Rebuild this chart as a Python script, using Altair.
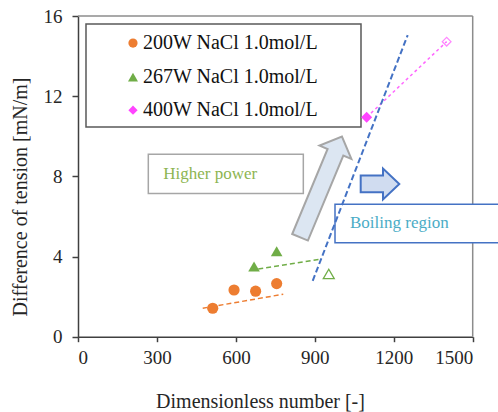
import altair as alt
import pandas as pd

# ---------------- data ----------------
x_200 = [512, 593, 675, 755]
y_200 = [1.42, 2.33, 2.27, 2.65]
x_267 = [669, 755]
y_267 = [3.50, 4.26]
x_267_open = [953]
y_267_open = [3.13]
x_400 = [1097]
y_400 = [10.95]
x_400_open = [1401]
y_400_open = [14.72]

fit_200_x = [474, 780]
fit_200_y = [1.42, 2.12]
fit_267_x = [685, 926]
fit_267_y = [3.38, 3.88]
fit_400_x = [1097, 1401]
fit_400_y = [10.95, 14.72]
boil_x = [892, 1253]
boil_y = [2.79, 15.05]

series_labels = ["200W NaCl 1.0mol/L", "267W NaCl 1.0mol/L", "400W NaCl 1.0mol/L"]
x_ticks = [0, 300, 600, 900, 1200, 1500]
y_ticks = [0, 4, 8, 12, 16]

# ---------------- styling ----------------
FONT = "Liberation Serif"
ORANGE = "#ed7d31"
GREEN = "#70ad47"
MAGENTA = "#ff44ff"
BLUE = "#4472c4"
AX = "#404040"

xs = alt.Scale(domain=[0, 1500], nice=False, zero=False)
ys = alt.Scale(domain=[0, 16], nice=False, zero=False)
x_axis = alt.Axis(values=x_ticks, format="d", grid=False, tickSize=5, tickWidth=1.5, tickColor=AX,
                  domainColor=AX, domainWidth=1.5, labelFont=FONT, labelFontSize=19,
                  labelColor="#262626", labelPadding=7, title="Dimensionless number [-]",
                  titleFont=FONT, titleFontSize=20, titleFontWeight="normal", titleColor="#262626",
                  titleX=182, titleY=70.5, titleBaseline="alphabetic", titleAlign="center")
y_axis = alt.Axis(values=y_ticks, format="d", grid=False, tickSize=6, tickWidth=1.5, tickColor=AX,
                  domainColor=AX, domainWidth=1.5, labelFont=FONT, labelFontSize=19,
                  labelColor="#262626", labelPadding=10, title="Difference of tension [mN/m]",
                  titleFont=FONT, titleFontSize=20, titleFontWeight="normal", titleColor="#262626",
                  titleAngle=270, titleX=-51.5, titleY=180.5, titleBaseline="alphabetic",
                  titleAlign="center")


def X(f="x"):
    return alt.X(f"{f}:Q", scale=xs, axis=x_axis)


def Y(f="y"):
    return alt.Y(f"{f}:Q", scale=ys, axis=y_axis)


def df(x, y):
    return pd.DataFrame({"x": x, "y": y})


# frame (top and right border)
frame = alt.Chart(pd.DataFrame({"x": [0, 1500], "x2": [1500, 1500], "y": [16, 0], "y2": [16, 16]})).mark_rule(
    color="#8c8c8c", strokeWidth=1.5).encode(x=X(), x2="x2:Q", y=Y(), y2="y2:Q")

# annotation boxes (data coordinates)
boxes = pd.DataFrame({
    "x": [30.4, 267.2, 976.7], "x2": [1075.5, 856.3, 1640],
    "y": [15.6, 9.10, 6.605], "y2": [10.46, 7.15, 4.69],
    "stroke": ["#595959", "#a6a6a6", BLUE],
})
box_layers = []
for i in range(len(boxes)):
    box_layers.append(
        alt.Chart(boxes.iloc[[i]]).mark_rect(fill="white", stroke=boxes["stroke"][i], strokeWidth=1.5)
        .encode(x=X(), x2="x2:Q", y=Y(), y2="y2:Q"))

higher = alt.Chart(pd.DataFrame({"x": [324], "y": [8.13], "t": ["Higher power"]})).mark_text(
    align="left", baseline="middle", font=FONT, fontSize=17, color="#8db552").encode(x=X(), y=Y(), text="t:N")
boiling = alt.Chart(pd.DataFrame({"x": [1033.7], "y": [5.65], "t": ["Boiling region"]})).mark_text(
    align="left", baseline="middle", font=FONT, fontSize=17, color="#4bacc6").encode(x=X(), y=Y(), text="t:N")

# arrows as custom symbols
up_arrow = "M-0.156,1 L0.156,1 L0.156,-0.69 L0.316,-0.69 L0,-1 L-0.316,-0.69 L-0.156,-0.69 Z"
right_arrow = "M-1,-0.433 L0.155,-0.433 L0.155,-0.8 L1,0 L0.155,0.8 L0.155,0.433 L-1,0.433 Z"
big_arrow = alt.Chart(df([923.5], [7.47])).mark_point(
    shape=up_arrow, size=11881, angle=22.6, filled=True, fill="#dce6f2", stroke="#a6a6a6",
    strokeWidth=2, opacity=1).encode(x=X(), y=Y())
small_arrow = alt.Chart(df([1147.7], [7.62])).mark_point(
    shape=right_arrow, size=1490, filled=True, fill="#d0dcf0", stroke=BLUE,
    strokeWidth=2, opacity=1).encode(x=X(), y=Y())

# trend lines
l200 = alt.Chart(df(fit_200_x, fit_200_y)).mark_line(color=ORANGE, strokeWidth=1.5, strokeDash=[5, 3]).encode(x=X(), y=Y())
l267 = alt.Chart(df(fit_267_x, fit_267_y)).mark_line(color=GREEN, strokeWidth=1.5, strokeDash=[5, 3]).encode(x=X(), y=Y())
l400 = alt.Chart(df(fit_400_x, fit_400_y)).mark_line(color="#ff66ff", strokeWidth=1.5, strokeDash=[3, 3]).encode(x=X(), y=Y())
lboil = alt.Chart(df(boil_x, boil_y)).mark_line(color=BLUE, strokeWidth=2, strokeDash=[6, 3]).encode(x=X(), y=Y())

# points
p200 = alt.Chart(df(x_200, y_200)).mark_point(shape="circle", filled=True, size=125, color=ORANGE, opacity=1).encode(x=X(), y=Y())
p267 = alt.Chart(df(x_267, y_267)).mark_point(shape="triangle-up", filled=True, size=135, color=GREEN, opacity=1).encode(x=X(), y=Y())
p267o = alt.Chart(df(x_267_open, y_267_open)).mark_point(shape="triangle-up", filled=False, size=120, color=GREEN, strokeWidth=1.3, opacity=1).encode(x=X(), y=Y())
p400 = alt.Chart(df(x_400, y_400)).mark_point(shape="diamond", filled=True, size=121, color=MAGENTA, opacity=1).encode(x=X(), y=Y())
p400o = alt.Chart(df(x_400_open, y_400_open)).mark_point(shape="diamond", filled=False, size=75, color="#ff88ff", strokeWidth=1.3, opacity=1).encode(x=X(), y=Y())

# legend (manual, inside the box)
leg_y = [14.65, 12.95, 11.30]
leg_sym = pd.DataFrame({"x": [209] * 3, "y": leg_y, "s": series_labels})
leg_circle = alt.Chart(leg_sym.iloc[[0]]).mark_point(shape="circle", filled=True, size=85, color=ORANGE, opacity=1).encode(x=X(), y=Y())
leg_tri = alt.Chart(leg_sym.iloc[[1]]).mark_point(shape="triangle-up", filled=True, size=100, color=GREEN, opacity=1).encode(x=X(), y=Y())
leg_dia = alt.Chart(leg_sym.iloc[[2]]).mark_point(shape="diamond", filled=True, size=85, color=MAGENTA, opacity=1).encode(x=X(), y=Y())
leg_text = alt.Chart(pd.DataFrame({"x": [247] * 3, "y": leg_y, "s": series_labels})).mark_text(
    align="left", baseline="middle", font=FONT, fontSize=20, color="#111111").encode(x=X(), y=Y(), text="s:N")

chart = alt.layer(
    frame, *box_layers, higher, boiling, big_arrow, small_arrow,
    l200, l267, l400, lboil, p200, p267, p267o, p400, p400o,
    leg_circle, leg_tri, leg_dia, leg_text,
).properties(
    width=394.7, height=320.7,
    padding={"left": 78, "top": 16, "right": 25.3, "bottom": 75.3},
    autosize=alt.AutoSizeParams(type="none"),
    background="white",
).configure_view(strokeWidth=0)

chart.save("out.html", embed_options={"renderer": "svg", "actions": False})
